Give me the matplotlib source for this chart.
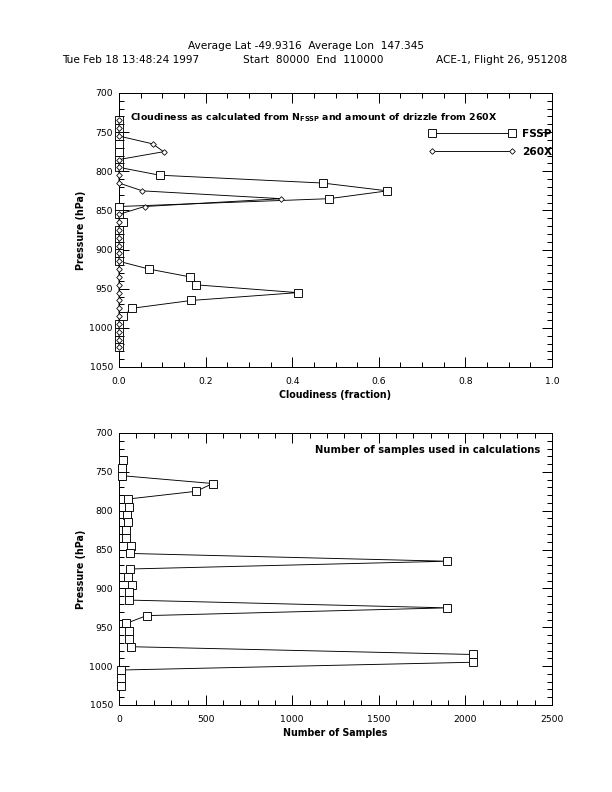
import matplotlib
matplotlib.use("Agg")
import matplotlib.pyplot as plt
from matplotlib.ticker import MultipleLocator

plt.rcParams['font.family'] = ['DejaVu Sans']

# ---- data ----
pressure = [735, 745, 755, 765, 775, 785, 795, 805, 815, 825, 835, 845, 855, 865, 875,
            885, 895, 905, 915, 925, 935, 945, 955, 965, 975, 985, 995, 1005, 1015, 1025]
fssp = [0, 0, 0, 0, 0, 0, 0, 0.094, 0.47, 0.62, 0.485, 0, 0, 0.01, 0,
        0, 0, 0, 0, 0.07, 0.165, 0.177, 0.413, 0.167, 0.03, 0.01, 0, 0, 0, 0]
x260 = [0, 0, 0, 0.078, 0.103, 0, 0, 0, 0, 0.054, 0.375, 0.059, 0, 0, 0,
        0, 0, 0, 0, 0, 0, 0, 0, 0, 0, 0, 0, 0, 0, 0]
nsamples = [25, 20, 20, 541, 446, 51, 57, 47, 51, 38, 38, 70, 63, 1895, 61,
            51, 76, 57, 57, 1895, 159, 41, 57, 57, 72, 2043, 2043, 10, 10, 10]

header1 = "Average Lat -49.9316  Average Lon  147.345"
header_left = "Tue Feb 18 13:48:24 1997"
header_mid = "Start  80000  End  110000"
header_right = "ACE-1, Flight 26, 951208"

W, H = 612, 792
fig = plt.figure(figsize=(W / 72, H / 72), dpi=72)

def axes_px(left, top, right, bottom):
    return fig.add_axes([left / W, 1 - bottom / H, (right - left) / W, (bottom - top) / H])

def style(ax):
    ax.tick_params(which='both', direction='in', top=True, right=True, labelsize=9.3,
                   width=1)
    ax.tick_params(axis='x', pad=10)
    ax.tick_params(axis='y', pad=6)
    ax.tick_params(which='major', length=10)
    ax.tick_params(which='minor', length=5)
    for s in ax.spines.values():
        s.set_linewidth(1)
    ax.set_ylim(1050, 700)
    ax.yaxis.set_major_locator(MultipleLocator(50))
    ax.yaxis.set_minor_locator(MultipleLocator(10))
    ax.set_ylabel("Pressure (hPa)", fontsize=9.5, fontweight='bold', labelpad=4)

# ---- top panel ----
ax1 = axes_px(119, 93, 552, 367)
style(ax1)
ax1.set_xlim(0, 1.0)
ax1.xaxis.set_major_locator(MultipleLocator(0.2))
ax1.xaxis.set_minor_locator(MultipleLocator(0.05))
ax1.xaxis.set_major_formatter(matplotlib.ticker.FormatStrFormatter('%.1f'))
ax1.plot(fssp, pressure, color='black', lw=0.9, marker='s', markersize=7.5,
         markerfacecolor='white', markeredgecolor='black', markeredgewidth=0.9,
         label='FSSP', clip_on=False, zorder=3)
ax1.plot(x260, pressure, color='black', lw=0.9, marker='D', markersize=4,
         markerfacecolor='white', markeredgecolor='black', markeredgewidth=0.8,
         label='260X', clip_on=False, zorder=4)
ax1.set_xlabel("Cloudiness (fraction)", fontsize=9.5, fontweight='bold', labelpad=4)
ax1.text(0.025, 0.909,
         r"Cloudiness as calculated from N$_{\mathregular{FSSP}}$ and amount of drizzle from 260X",
         transform=ax1.transAxes, fontsize=9.4, fontweight='bold', va='center', ha='left')
leg = ax1.legend(loc='upper right', bbox_to_anchor=(1.0, 0.868), frameon=False,
                 numpoints=2, handlelength=8.3, handletextpad=0.6, labelspacing=0.75,
                 borderpad=0, borderaxespad=0, prop={'size': 10.5, 'weight': 'bold'})

# ---- bottom panel ----
ax2 = axes_px(119, 433, 552, 705)
style(ax2)
ax2.set_xlim(0, 2500)
ax2.xaxis.set_major_locator(MultipleLocator(500))
ax2.xaxis.set_minor_locator(MultipleLocator(100))
ax2.plot(nsamples, pressure, color='black', lw=0.9, marker='s', markersize=7.5,
         markerfacecolor='white', markeredgecolor='black', markeredgewidth=0.9,
         clip_on=False, zorder=3)
ax2.set_xlabel("Number of Samples", fontsize=9.5, fontweight='bold', labelpad=4)
ax2.text(0.972, 0.9375, "Number of samples used in calculations",
         transform=ax2.transAxes, fontsize=10, fontweight='bold', va='center', ha='right')

# ---- header ----
fig.text(306 / W, 1 - 46 / H, header1, ha='center', va='center', fontsize=10.5)
fig.text(62 / W, 1 - 60 / H, header_left, ha='left', va='center', fontsize=10.5)
fig.text(243 / W, 1 - 60 / H, header_mid, ha='left', va='center', fontsize=10.5)
fig.text(567 / W, 1 - 60 / H, header_right, ha='right', va='center', fontsize=10.5)

fig.savefig("out.png", dpi=72, facecolor='white')
